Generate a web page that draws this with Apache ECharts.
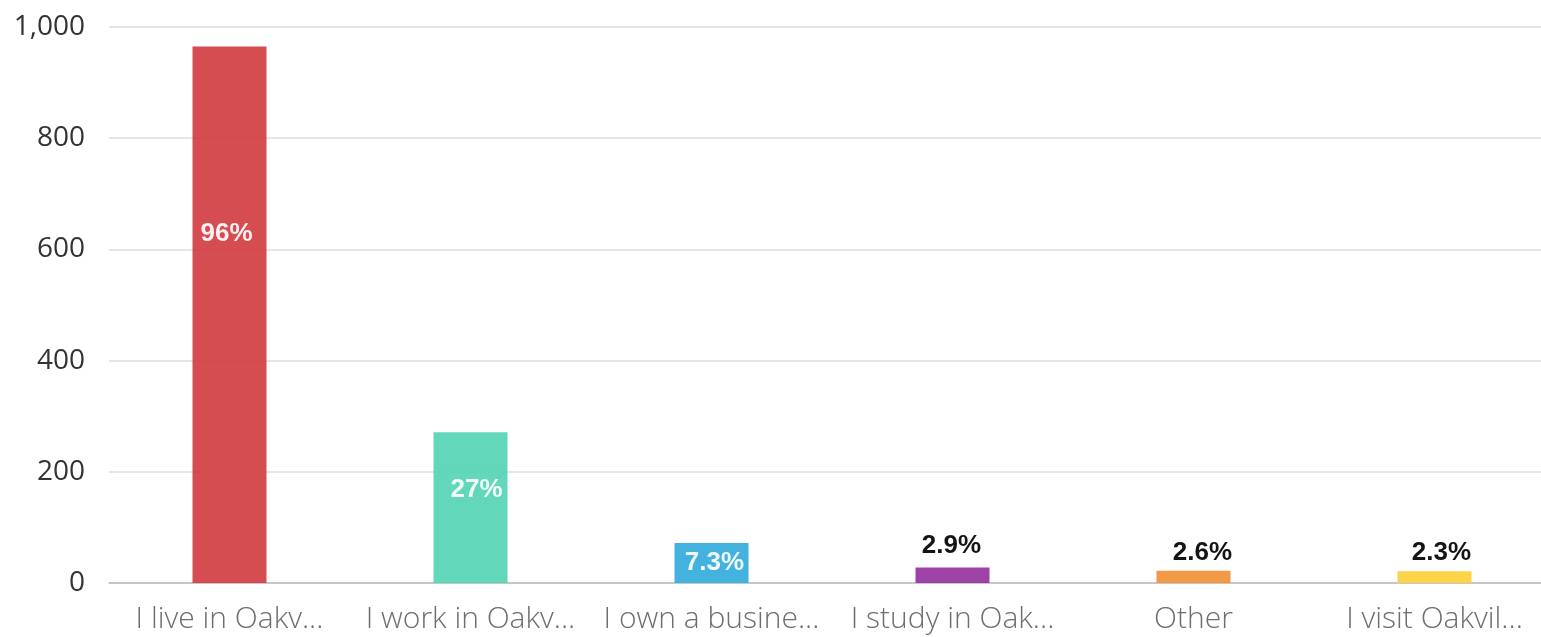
<!DOCTYPE html>
<html>
<head>
<meta charset="utf-8">
<script src="https://cdn.jsdelivr.net/npm/echarts@6/dist/echarts.min.js"></script>
<style>
  html, body { margin: 0; padding: 0; background: #fff; overflow: hidden; }
  /* the plot in the original runs a little past the right edge of the page */
  #chart { width: 1556px; height: 637px; }
</style>
</head>
<body>
<div id="chart"></div>
<script>
const categories = ['I live in Oakv...', 'I work in Oakv...', 'I own a busine...', 'I study in Oak...', 'Other', 'I visit Oakvil...']
const counts = [965, 271, 72, 28, 22, 21]
const percentLabels = ['96%', '27%', '7.3%', '2.9%', '2.6%', '2.3%']
const barColors = ['#d13d42', '#56d4b4', '#33abdc', '#9632a0', '#f2913a', '#fccf3a']
const yTicks = [0, 200, 400, 600, 800, 1000]

const chart = echarts.init(document.getElementById('chart'))

// label placement copied by eye: big bars keep text inside, small ones above
const labelPlace = [
  { position: 'inside', offset: [-3, -81], color: '#fff' },
  { position: 'inside', offset: [6, -18], color: '#fff' },
  { position: 'inside', offset: [3, 0], color: '#fff' },
  { position: 'top', offset: [-1, -4], color: '#000' },
  { position: 'top', offset: [9, 0], color: '#000' },
  { position: 'top', offset: [7, 0], color: '#000' }
]

const option = {
  animation: false,
  grid: { left: 109, right: 1, top: 27, bottom: 54, containLabel: false },
  xAxis: {
    type: 'category',
    data: categories,
    axisLine: { lineStyle: { color: '#bdbdbd', width: 1.5 } },
    axisTick: { alignWithLabel: true, length: 8, lineStyle: { color: '#9a9a9a', width: 1.5 } },
    axisLabel: {
      interval: 0,
      color: '#6e6e6e',
      fontFamily: 'Open Sans',
      fontWeight: 300,
      fontSize: 30,
      margin: 21
    }
  },
  yAxis: {
    type: 'value',
    min: yTicks[0],
    max: yTicks[yTicks.length - 1],
    interval: 200,
    axisLine: { show: false },
    axisTick: { show: false },
    splitLine: { lineStyle: { color: '#dcdcdc', width: 1.5 } },
    axisLabel: {
      color: '#333',
      fontFamily: 'Open Sans',
      fontSize: 28,
      margin: 24,
      formatter: v => v.toLocaleString('en-US')
    }
  },
  series: [{
    type: 'bar',
    barWidth: 74,
    data: counts.map((v, i) => ({
      value: v,
      itemStyle: { color: barColors[i], opacity: 0.92 },
      label: {
        show: true,
        formatter: percentLabels[i],
        position: labelPlace[i].position,
        offset: labelPlace[i].offset,
        color: labelPlace[i].color,
        fontFamily: 'Liberation Sans, Arial',
        fontWeight: 'bold',
        fontSize: 26
      }
    }))
  }]
}

chart.setOption(option)
window.addEventListener('resize', () => chart.resize())
</script>
</body>
</html>
